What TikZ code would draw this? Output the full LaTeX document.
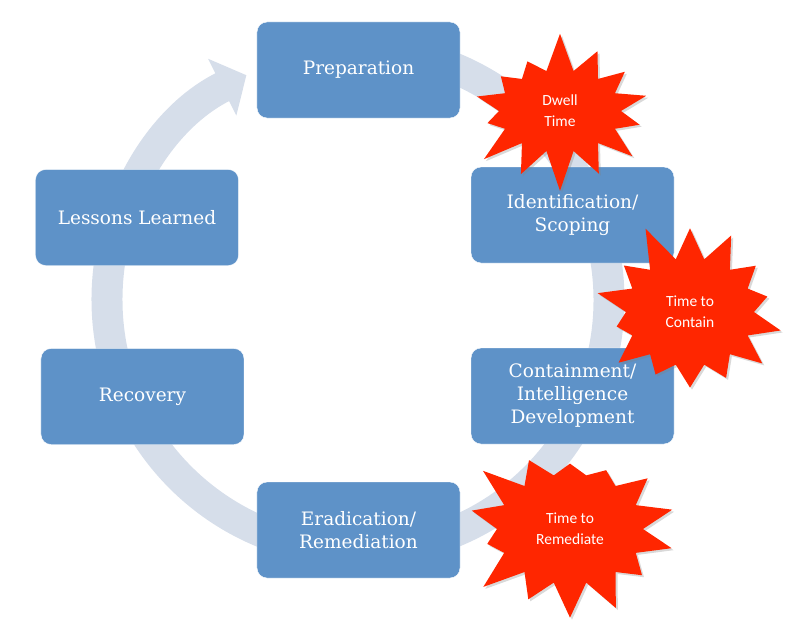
\documentclass[tikz,border=0pt]{standalone}
\usepackage{fontspec}
\setmainfont{DejaVu Serif}
\newfontfamily\burstfont{Carlito}
\usetikzlibrary{arrows.meta,positioning,shapes.symbols,shadows}
\definecolor{boxblue}{RGB}{94,146,200}
\definecolor{ringgray}{RGB}{214,222,234}
\definecolor{burstred}{RGB}{255,38,0}

\begin{document}
\begin{tikzpicture}[x=1pt,y=1pt,
    phase/.style={rectangle,rounded corners=10pt,fill=boxblue,draw=white,thin,text=white,minimum width=203pt,minimum height=96pt,align=center,font=\fontsize{18.5}{23}\selectfont},
    burst/.style={starburst,fill=burstred,text=white,align=center,starburst points=14,starburst point height=40pt,font=\burstfont\fontsize{15.5}{21}\selectfont,drop shadow={opacity=0.3,shadow xshift=2pt,shadow yshift=-2pt}},
    ring/.style={line width=31pt,color=ringgray}]
    \useasboundingbox (-358,-319) rectangle (427,300);
    % cycle arrow behind the boxes
    \draw[ring,-{Triangle[length=27pt,width=62pt]}] (95:251) arc[start angle=95,end angle=-243.6,radius=251pt];

    \node[phase] (1) at (0.5,230) {Preparation};
    \node[phase] (2) at (214.5,85) {Identification/\\Scoping};
    \node[phase] (3) at (214.5,-96) {Containment/\\Intelligence\\Development};
    \node[phase] (4) at (0.5,-230) {Eradication/\\Remediation};
    \node[phase] (5) at (-215.5,-96.5) {Recovery};
    \node[phase] (6) at (-221,82.5) {Lessons Learned};

    \node[burst,minimum width=202pt,minimum height=162pt,random starburst=7] (t1) at (202,189) {Dwell\\Time};
    \node[burst,minimum width=208pt,minimum height=188pt,random starburst=11] (t2) at (332,-12) {Time to\\Contain};
    \node[burst,minimum width=226pt,minimum height=190pt,random starburst=23] (t3) at (212,-229) {Time to\\Remediate};
\end{tikzpicture}
\end{document}
